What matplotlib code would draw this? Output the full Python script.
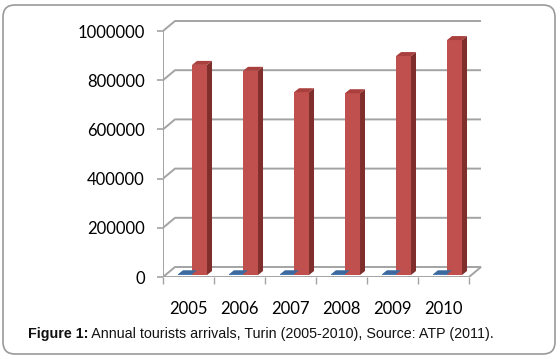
import numpy as np
import matplotlib
matplotlib.use("Agg")
import matplotlib.pyplot as plt
from matplotlib.patches import Polygon, FancyBboxPatch

years = ["2005", "2006", "2007", "2008", "2009", "2010"]
arrivals = [854000, 830000, 743000, 739000, 890000, 955000]
other = [3000, 3000, 3000, 3000, 3000, 3000]   # flat blue series
yticks = [0, 200000, 400000, 600000, 800000, 1000000]

W, H = 560, 359
fig = plt.figure(figsize=(W / 100, H / 100), dpi=100)

# pixel frame of the plot (front floor edge at y=277)
left, right, top, floor = 163, 485, 15, 277
cat_px = 51.0          # pixels per category
val_px = 246 / 1e6     # pixels per unit value

ax = fig.add_axes([left / W, (H - floor) / H, (right - left) / W, (floor - top) / H])
ax.set_xlim(-0.5, -0.5 + (right - left) / cat_px)
ax.set_ylim(0, (floor - top) / val_px)
ax.patch.set_alpha(0)
for s in ax.spines.values():
    s.set_visible(False)


def dx(p):
    return p / cat_px


def dy(p):
    return p / val_px


grid = "#a3a3a3"
n = len(years)
wdx, wdy = dx(12), dy(10)   # depth of the chart box
bdx, bdy = dx(5), dy(4)     # depth of one bar
b0 = dy(2)                  # bars stand a little behind the front edge

# side wall + back wall gridlines
for v in yticks[1:]:
    ax.plot([-0.5, -0.5 + wdx, n - 0.5 + wdx], [v, v + wdy, v + wdy],
            color=grid, lw=1.4, zorder=1, solid_capstyle="butt")
ax.plot([-0.5, -0.5], [0, yticks[-1]], color=grid, lw=1.4, zorder=1)

# floor
ax.add_patch(Polygon([(-0.5, 0), (n - 0.5, 0), (n - 0.5 + wdx, wdy), (-0.5 + wdx, wdy)],
                     closed=True, fc="white", ec=grid, lw=1.4, zorder=1.5))


def bars3d(xc, width, vals, front, side, topc):
    ax.bar(xc, vals, width=width, bottom=b0, color=front, zorder=3, linewidth=0)
    for x, v in zip(xc, vals):
        x0, x1, t = x - width / 2, x + width / 2, b0 + v
        ax.add_patch(Polygon([(x1, b0), (x1 + bdx, b0 + bdy), (x1 + bdx, t + bdy), (x1, t)],
                             closed=True, fc=side, lw=0, zorder=2.9))
        ax.add_patch(Polygon([(x0, t), (x1, t), (x1 + bdx, t + bdy), (x0 + bdx, t + bdy)],
                             closed=True, fc=topc, lw=0, zorder=3.1))


x = np.arange(n)
bars3d(x + 0.216, 0.294, arrivals, "#c0504d", "#7f2e2c", "#a9403d")
bars3d(x - 0.069, 0.275, other, "#4f81bd", "#385d8a", "#3d6a9e")

tick_font = dict(family=["Lato", "DejaVu Sans"], size=12)
ax.set_yticks(yticks, [str(v) for v in yticks], **tick_font)
ax.tick_params(axis="y", length=4.5, width=1.2, color=grid, pad=8.5)
ax.set_xticks(x, years, **tick_font)
ax.set_xticks(np.arange(-0.5, n), minor=True)
ax.tick_params(axis="x", which="major", length=0, pad=17)
ax.tick_params(axis="x", which="minor", length=5, width=1.0, color=grid)

# rounded frame
fig.add_artist(FancyBboxPatch((0.03, 0.05), 5.52, 3.49, boxstyle="round,pad=0,rounding_size=0.12",
                              transform=fig.dpi_scale_trans, fc="none", ec="#9a9a9a", lw=1.2))

cap = dict(family=["Liberation Sans", "DejaVu Sans"], size=10.3, color="#111111")
t1 = fig.text(28 / W, 1 - 334 / H, "Figure 1:", weight="bold", va="center", ha="left", **cap)
ax.annotate(" Annual tourists arrivals, Turin (2005-2010), Source: ATP (2011).",
            xy=(1, 0.5), xycoords=t1, va="center", ha="left", annotation_clip=False, **cap)

fig.savefig("out.png", dpi=100)
